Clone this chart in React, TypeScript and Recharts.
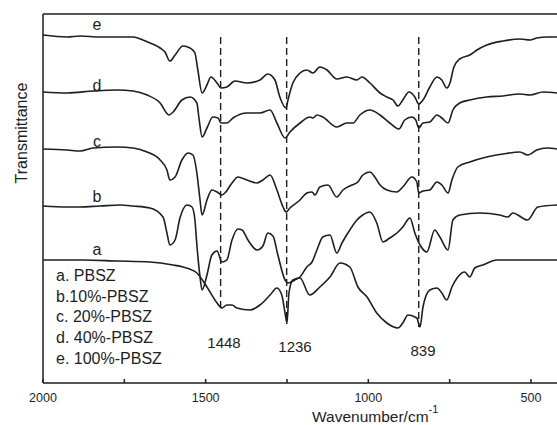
import { LineChart, Line, XAxis, YAxis, ReferenceLine } from "recharts";

// FTIR spectra, offset for stacking (arbitrary transmittance units)
// each row: [wavenumber cm-1, transmittance]
const curveE = [
  [2000, 348], [1926, 346], [1886, 347], [1825, 346], [1773, 346], [1723, 346], [1693, 343],
  [1671, 340], [1640, 335], [1625, 331], [1610, 322], [1594, 328], [1570, 337], [1548, 335],
  [1533, 330], [1524, 313], [1511, 290], [1496, 298], [1484, 306], [1465, 300], [1453, 295],
  [1435, 296], [1410, 302], [1373, 300], [1333, 303], [1309, 309], [1287, 303], [1272, 286],
  [1253, 275], [1247, 283], [1232, 300], [1210, 310], [1189, 313], [1170, 310], [1149, 316],
  [1127, 313], [1097, 304], [1066, 306], [1035, 303], [1020, 306], [995, 300], [964, 290],
  [943, 286], [924, 283], [909, 277], [894, 283], [875, 291], [857, 286], [845, 279],
  [832, 283], [811, 296], [789, 306], [774, 303], [759, 295], [749, 300], [737, 316],
  [719, 324], [688, 328], [666, 333], [636, 338], [586, 342], [534, 344], [503, 343],
  [482, 345], [451, 346], [420, 346],
];

const curveD = [
  [2000, 291], [1926, 290], [1846, 292], [1773, 293], [1723, 292], [1680, 288], [1640, 280],
  [1613, 268], [1600, 271], [1573, 283], [1548, 286], [1527, 280], [1521, 266], [1511, 246],
  [1496, 255], [1478, 266], [1462, 265], [1453, 260], [1435, 260], [1416, 265], [1373, 270],
  [1333, 270], [1302, 273], [1281, 260], [1256, 245], [1241, 251], [1210, 260], [1180, 266],
  [1170, 265], [1158, 268], [1140, 266], [1097, 256], [1066, 260], [1047, 260], [1026, 268],
  [995, 273], [964, 268], [934, 260], [906, 254], [888, 263], [866, 266], [854, 263],
  [845, 255], [832, 260], [811, 261], [789, 268], [774, 265], [755, 260], [740, 273],
  [719, 280], [688, 283], [636, 286], [586, 287], [534, 289], [503, 288], [463, 291], [420, 290],
];

const curveC = [
  [2000, 234], [1926, 233], [1886, 232], [1846, 235], [1773, 236], [1723, 235], [1680, 231],
  [1640, 223], [1619, 213], [1610, 203], [1594, 206], [1573, 223], [1554, 230], [1539, 228],
  [1527, 210], [1518, 185], [1511, 168], [1496, 183], [1481, 193], [1465, 191], [1450, 188],
  [1441, 190], [1419, 200], [1401, 206], [1373, 203], [1342, 200], [1324, 203], [1302, 208],
  [1281, 193], [1262, 176], [1253, 171], [1241, 175], [1210, 183], [1189, 190], [1173, 191],
  [1164, 188], [1149, 196], [1124, 198], [1097, 186], [1078, 193], [1050, 198], [1032, 201],
  [1017, 208], [995, 211], [980, 206], [964, 198], [943, 193], [912, 191], [894, 196],
  [866, 206], [851, 201], [845, 190], [832, 192], [811, 193], [789, 201], [774, 198],
  [755, 190], [743, 203], [725, 216], [688, 221], [636, 226], [586, 229], [534, 231],
  [510, 228], [482, 233], [451, 235], [420, 234],
];

const curveB = [
  [2000, 177], [1926, 176], [1886, 176], [1825, 177], [1763, 178], [1723, 177], [1671, 175],
  [1631, 166], [1619, 150], [1610, 138], [1594, 143], [1579, 165], [1557, 178], [1542, 176],
  [1533, 163], [1527, 138], [1518, 108], [1511, 93], [1496, 108], [1481, 128], [1465, 132],
  [1450, 121], [1435, 123], [1419, 143], [1401, 154], [1388, 153], [1370, 143], [1342, 133],
  [1324, 137], [1309, 150], [1293, 147], [1278, 128], [1256, 103], [1247, 100], [1226, 103],
  [1210, 106], [1189, 116], [1173, 121], [1158, 133], [1140, 146], [1118, 148], [1097, 130],
  [1081, 140], [1057, 153], [1035, 163], [1017, 168], [995, 171], [974, 160], [955, 141],
  [934, 145], [912, 150], [894, 156], [872, 165], [857, 150], [841, 138], [820, 131],
  [796, 153], [780, 146], [755, 133], [740, 163], [719, 168], [657, 170], [596, 168],
  [571, 166], [556, 170], [510, 163], [479, 176], [420, 178],
];

const curveA = [
  [2000, 123], [1877, 123], [1773, 122], [1671, 121], [1600, 118], [1570, 116], [1527, 110],
  [1496, 96], [1465, 80], [1450, 75], [1435, 78], [1419, 78], [1404, 75], [1364, 73],
  [1333, 78], [1302, 88], [1281, 95], [1266, 88], [1256, 70], [1250, 60], [1244, 90],
  [1232, 103], [1210, 105], [1180, 88], [1149, 96], [1118, 106], [1087, 120], [1057, 116],
  [1032, 96], [1004, 86], [974, 70], [943, 60], [909, 55], [894, 60], [878, 68], [851, 65],
  [841, 56], [832, 76], [811, 93], [789, 95], [774, 90], [759, 83], [743, 96], [725, 106],
  [704, 111], [688, 106], [673, 115], [648, 118], [605, 123], [534, 123], [420, 123],
];

const seriesNames = ["a", "b", "c", "d", "e"];
const legendLabels = ["a. PBSZ", "b.10%-PBSZ", "c. 20%-PBSZ", "d. 40%-PBSZ", "e. 100%-PBSZ"];
const peaks = [1448, 1236, 839];
const xTicks = [2000, 1750, 1500, 1250, 1000, 750, 500];

const toPts = (rows: number[][]) => rows.map(([wn, t]) => ({ wn, t }));
const curves = [curveA, curveB, curveC, curveD, curveE].map(toPts);

// where the dashed marker lines are actually drawn, and how far down they go
const peakLineX = [1454, 1251, 845];
const peakLineBottom = [73, 59, 56];

const INK = "#1e1e1e";
const FONT = "'Liberation Sans', Arial, sans-serif";

// curve label spots (px) and legend layout
const curveLabelY = [255, 202, 147, 91, 30];
const legendY = [281, 302, 322, 343, 364];
const peakLabelPos = [
  { x: 224, y: 348 },
  { x: 295, y: 352 },
  { x: 423, y: 356 },
];

export default function App() {
  return (
    <div style={{ position: "absolute", left: 0, top: 0, width: 557, height: 425, background: "#fff" }}>
      <LineChart width={557} height={425} margin={{ top: 14, right: 0, left: 3, bottom: 12 }}>
        <XAxis
          dataKey="wn"
          type="number"
          domain={[420, 2000]}
          reversed
          allowDataOverflow
          ticks={xTicks}
          tickFormatter={(v: number) => (v % 500 === 0 ? String(v) : "")}
          height={30}
          tickSize={-4}
          tickMargin={14}
          axisLine={{ stroke: INK, strokeWidth: 1.5 }}
          tickLine={{ stroke: INK, strokeWidth: 1.5 }}
          tick={{ fill: INK, fontSize: 12.5, fontFamily: FONT }}
        />
        <YAxis
          type="number"
          domain={[0, 369]}
          width={40}
          tick={false}
          tickLine={false}
          axisLine={{ stroke: INK, strokeWidth: 1.5 }}
        />
        <ReferenceLine y={369} stroke={INK} strokeWidth={1.5} />
        {peakLineX.map((x, i) => (
          <ReferenceLine
            key={x}
            segment={[{ x, y: 346 }, { x, y: peakLineBottom[i] }]}
            stroke={INK}
            strokeWidth={1.4}
            strokeDasharray="7 4"
          />
        ))}
        {curves.map((data, i) => (
          <Line
            key={seriesNames[i]}
            data={data}
            dataKey="t"
            type="monotone"
            stroke={INK}
            strokeWidth={1.6}
            dot={false}
            isAnimationActive={false}
          />
        ))}
      </LineChart>
      <svg
        width={557}
        height={425}
        style={{ position: "absolute", left: 0, top: 0, pointerEvents: "none" }}
        fontFamily={FONT}
        fill={INK}
      >
        <text transform="translate(27,133) rotate(-90)" textAnchor="middle" fontSize={16}>
          Transmittance
        </text>
        <text x={312} y={422} fontSize={15.5}>
          Wavenumber/cm
          <tspan dy={-9} fontSize={11}>-1</tspan>
        </text>
        {seriesNames.map((n, i) => (
          <text key={n} x={97} y={curveLabelY[i]} textAnchor="middle" fontSize={16}>
            {n}
          </text>
        ))}
        {legendLabels.map((l, i) => (
          <text key={l} x={56} y={legendY[i]} fontSize={16}>
            {l}
          </text>
        ))}
        {peaks.map((p, i) => (
          <text key={p} x={peakLabelPos[i].x} y={peakLabelPos[i].y} textAnchor="middle" fontSize={15}>
            {p}
          </text>
        ))}
      </svg>
    </div>
  );
}
